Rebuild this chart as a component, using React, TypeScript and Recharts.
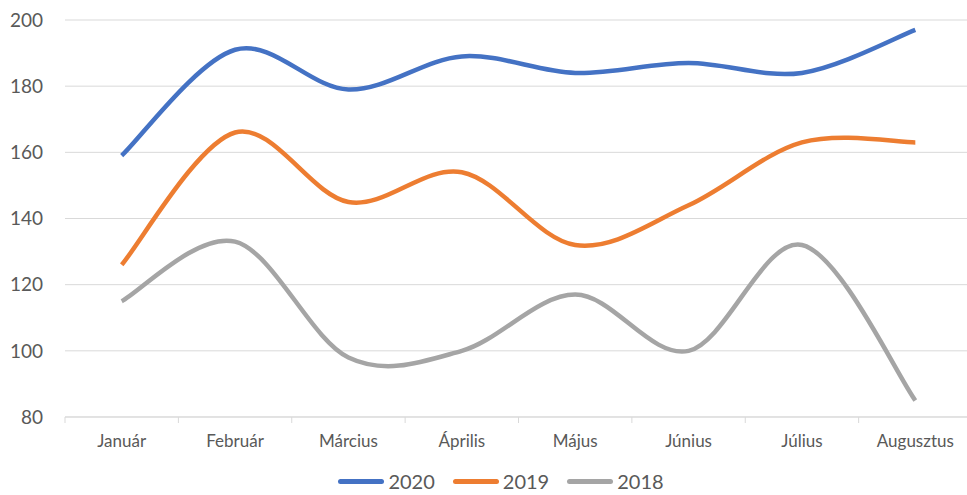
import React from "react";
import { LineChart, Line, XAxis, YAxis, CartesianGrid, Legend } from "recharts";

const months = ["Január", "Február", "Március", "Április", "Május", "Június", "Július", "Augusztus"];
const sales2020 = [159, 191, 179, 189, 184, 187, 184, 197];
const sales2019 = [126, 166, 145, 154, 132, 144, 163, 163];
const sales2018 = [115, 133, 98, 100, 117, 100, 132, 85];
const yTicks = [80, 100, 120, 140, 160, 180, 200];

const series = [
  { key: "2020", values: sales2020, color: "#4472C4" },
  { key: "2019", values: sales2019, color: "#ED7D31" },
  { key: "2018", values: sales2018, color: "#A5A5A5" },
];

const data = months.map((m, i) => {
  const row: Record<string, string | number> = { month: m };
  series.forEach((s) => (row[s.key] = s.values[i]));
  return row;
});

const W = 967;
const H = 495;
const MARGIN = { top: 20, right: -5, bottom: 0, left: 0 };
const Y_AXIS_W = 65;
const BAND = (W - Y_AXIS_W - MARGIN.right) / months.length;
const FONT = "Lato, 'Open Sans', sans-serif";
const TEXT = "#595959";
const GRID = "#D9D9D9";

// smooth line like office charts (catmull-rom through the points)
const smoothCurve = (context: any) => {
  let pts: number[][] = [];
  return {
    areaStart() {},
    areaEnd() {},
    lineStart() {
      pts = [];
    },
    point(x: number, y: number) {
      pts.push([+x, +y]);
    },
    lineEnd() {
      const n = pts.length;
      if (!n) return;
      context.moveTo(pts[0][0], pts[0][1]);
      for (let i = 0; i < n - 1; i++) {
        const p0 = pts[Math.max(i - 1, 0)];
        const p1 = pts[i];
        const p2 = pts[i + 1];
        const p3 = pts[Math.min(i + 2, n - 1)];
        context.bezierCurveTo(
          p1[0] + (p2[0] - p0[0]) / 6,
          p1[1] + (p2[1] - p0[1]) / 6,
          p2[0] - (p3[0] - p1[0]) / 6,
          p2[1] - (p3[1] - p1[1]) / 6,
          p2[0],
          p2[1]
        );
      }
    },
  };
};

const XTick = (props: any) => {
  const { x, y, payload, index } = props;
  return (
    <g>
      <line x1={x - BAND / 2} x2={x - BAND / 2} y1={y} y2={y + 6} stroke={GRID} />
      {index === months.length - 1 && (
        <line x1={x + BAND / 2} x2={x + BAND / 2} y1={y} y2={y + 6} stroke={GRID} />
      )}
      <text x={x} y={y + 30} textAnchor="middle" fill={TEXT} fontSize={17} fontFamily={FONT}>
        {payload.value}
      </text>
    </g>
  );
};

const LegendContent = () => (
  <div style={{ display: "flex", justifyContent: "center", paddingTop: 13, paddingLeft: 30, fontFamily: FONT }}>
    {series.map((s) => (
      <div key={s.key} style={{ display: "flex", alignItems: "center", margin: "0 9px" }}>
        <span style={{ width: 46, height: 5, borderRadius: 3, background: s.color, marginRight: 4 }} />
        <span style={{ fontSize: 20, color: TEXT, lineHeight: "22px" }}>{s.key}</span>
      </div>
    ))}
  </div>
);

const App = () => (
  <div style={{ position: "absolute", top: 0, left: 0, width: W, height: H, background: "#fff", overflow: "hidden" }}>
    <LineChart width={W} height={H} data={data} margin={MARGIN}>
      <CartesianGrid vertical={false} stroke={GRID} />
      <XAxis
        dataKey="month"
        height={40}
        stroke={GRID}
        tickLine={false}
        tickSize={0}
        tickMargin={0}
        interval={0}
        padding={{ left: BAND / 2, right: BAND / 2 }}
        tick={<XTick />}
      />
      <YAxis
        domain={[80, 200]}
        ticks={yTicks}
        width={Y_AXIS_W}
        axisLine={false}
        tickLine={false}
        tickSize={0}
        tickMargin={22}
        tick={{ fill: TEXT, fontSize: 19, fontFamily: FONT }}
      />
      <Legend verticalAlign="bottom" height={38} content={<LegendContent />} />
      {series.map((s) => (
        <Line
          key={s.key}
          dataKey={s.key}
          type={smoothCurve as any}
          stroke={s.color}
          strokeWidth={4.5}
          dot={false}
          activeDot={false}
          isAnimationActive={false}
        />
      ))}
    </LineChart>
  </div>
);

export default App;
